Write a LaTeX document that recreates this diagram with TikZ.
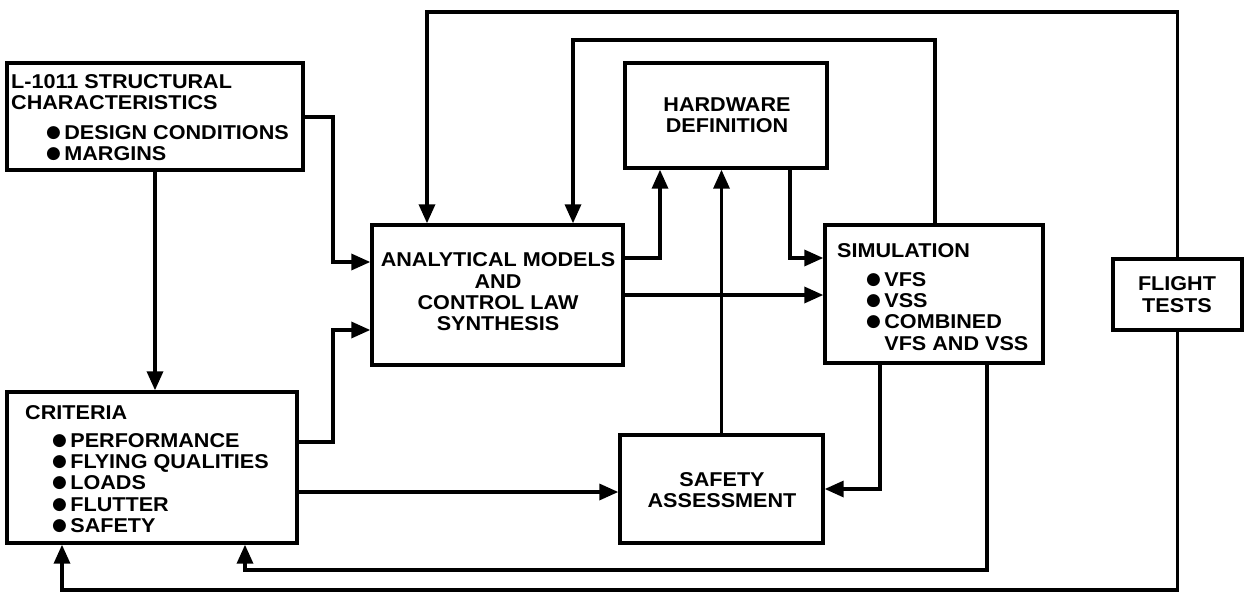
\documentclass[tikz,border=0pt]{standalone}
\usepackage{fontspec}
\setmainfont{Liberation Sans}[FakeStretch=1.08]
\newfontfamily\symf{DejaVu Sans}
\usetikzlibrary{arrows.meta}
\newcommand{\dotb}{\raisebox{2pt}{\symf\fontsize{17}{17}\selectfont ●}}
\begin{document}
\begin{tikzpicture}[x=1pt,y=-1pt,
  box/.style={draw, line width=3.4pt, inner sep=0pt},
  txt/.style={font=\bfseries\fontsize{20}{21.3}\selectfont, inner sep=0pt},
  arr/.style={line width=3.4pt, -{Triangle[length=19pt,width=16pt]}}]
\useasboundingbox (0,0) rectangle (1247,597);
% boxes
\node[box, minimum width=296pt, minimum height=107pt] (l1011) at (155,116.5) {};
\node[box, minimum width=290pt, minimum height=151pt] (crit) at (152,467.5) {};
\node[box, minimum width=251pt, minimum height=140pt] (ana) at (497.5,295) {};
\node[box, minimum width=202pt, minimum height=105pt] (hw) at (726,115.5) {};
\node[box, minimum width=218pt, minimum height=138pt] (sim) at (934,294) {};
\node[box, minimum width=129pt, minimum height=71pt] (flight) at (1177.5,294.5) {};
\node[box, minimum width=203pt, minimum height=108pt] (safe) at (721.5,489) {};
% texts
\node[txt, anchor=north west, align=left] (l1011t) at (11,74) {L-1011 STRUCTURAL\\CHARACTERISTICS};
\node[txt, anchor=north west, align=left] (l1011b) at (46,125) {\dotb\,DESIGN CONDITIONS\\\dotb\,MARGINS};
\node[txt, anchor=north west, align=left] (critt) at (25,405) {CRITERIA};
\node[txt, anchor=north west, align=left] (critb) at (52,433) {\dotb\,PERFORMANCE\\\dotb\,FLYING QUALITIES\\\dotb\,LOADS\\\dotb\,FLUTTER\\\dotb\,SAFETY};
\node[txt, align=center] (anat) at (498,292) {ANALYTICAL MODELS\\AND\\CONTROL LAW\\SYNTHESIS};
\node[txt, align=center] (hwt) at (727,115) {HARDWARE\\DEFINITION};
\node[txt, anchor=north west, align=left] (simt) at (837,243) {SIMULATION};
\node[txt, anchor=north west, align=left] (simb) at (866,272) {\dotb\,VFS\\\dotb\,VSS\\\dotb\,COMBINED\\\phantom{\dotb\,}VFS AND VSS};
\node[txt, align=center] (flightt) at (1177,294.5) {FLIGHT\\TESTS};
\node[txt, align=center] (safet) at (722,490) {SAFETY\\ASSESSMENT};
% connectors
\draw[arr] (l1011.south) -- (l1011.south |- crit.north);
\draw[arr] (l1011.east |- 0,117) -| (333,262) -- (ana.west |- 0,262);
\draw[arr] (crit.east |- 0,442) -| (333,330) -- (ana.west |- 0,330);
\draw[arr] (crit.east |- 0,492) -- (safe.west |- 0,492);
\draw[arr] (flight.north) |- (427,12) -- (ana.north -| 427,0);
\draw[arr] (sim.north -| 935,0) |- (573,40) -- (ana.north -| 573,0);
\draw[arr] (ana.east |- 0,258) -| (hw.south -| 660,0);
\draw[arr] (hw.south -| 790,0) |- (sim.west |- 0,258);
\draw[arr] (ana.east |- 0,295) -- (sim.west |- 0,295);
\draw[arr] (safe.north) -- (safe.north |- hw.south);
\draw[arr] (sim.south -| 880,0) |- (safe.east);
\draw[arr] (sim.south -| 987,0) |- (245,570) -- (crit.south -| 245,0);
\draw[arr] (flight.south) |- (62,590) -- (crit.south -| 62,0);
\end{tikzpicture}
\end{document}
